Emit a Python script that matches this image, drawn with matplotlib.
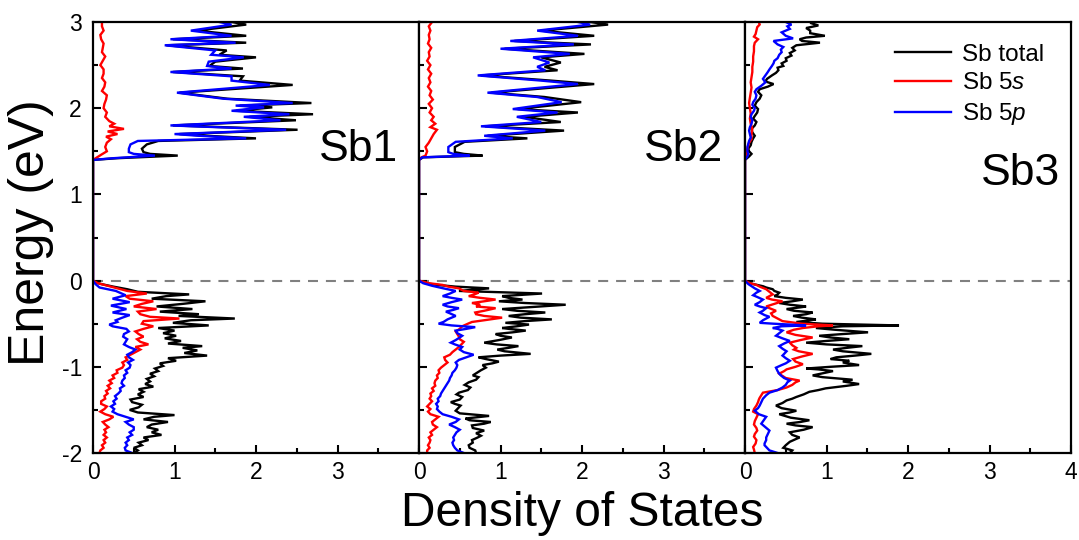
import matplotlib
matplotlib.use('Agg')
import matplotlib.pyplot as plt
import matplotlib.transforms as mtransforms
from matplotlib.ticker import MultipleLocator

plt.rcParams['font.family'] = ['Liberation Sans', 'DejaVu Sans']
plt.rcParams['axes.unicode_minus'] = False
plt.rcParams['mathtext.fontset'] = 'custom'
plt.rcParams['mathtext.rm'] = 'Liberation Sans'
plt.rcParams['mathtext.it'] = 'Liberation Sans:italic'

# ---------------- data ----------------
panel_names = ['Sb1', 'Sb2', 'Sb3']
series_labels = ['Sb total', 'Sb 5$s$', 'Sb 5$p$']
series_colors = ['#000000', '#ff0000', '#0000ff']
x_ticks_per_panel = [[0, 1, 2, 3], [0, 1, 2, 3], [0, 1, 2, 3, 4]]
y_ticks = [-2, -1, 0, 1, 2, 3]

# (energy eV, DOS) pairs
sb1_total = [
    (-2.00, 0.50), (-1.97, 0.55), (-1.94, 0.50), (-1.91, 0.60), (-1.88, 0.56), (-1.85, 0.68),
    (-1.82, 0.62), (-1.79, 0.84), (-1.76, 0.72), (-1.73, 0.80), (-1.70, 0.66), (-1.67, 0.72),
    (-1.64, 0.92), (-1.61, 0.62), (-1.58, 0.75), (-1.56, 1.00), (-1.53, 0.55), (-1.50, 0.45),
    (-1.47, 0.56), (-1.44, 0.60), (-1.41, 0.48), (-1.38, 0.46), (-1.35, 0.62), (-1.32, 0.55),
    (-1.29, 0.62), (-1.26, 0.56), (-1.23, 0.74), (-1.20, 0.64), (-1.17, 0.70), (-1.14, 0.66),
    (-1.11, 0.75), (-1.08, 0.70), (-1.05, 0.80), (-1.02, 0.76), (-0.99, 0.86), (-0.96, 0.82),
    (-0.93, 1.02), (-0.90, 0.92), (-0.87, 1.40), (-0.84, 1.12), (-0.81, 1.28), (-0.78, 1.10),
    (-0.76, 1.34), (-0.73, 0.92), (-0.70, 1.08), (-0.67, 0.88), (-0.64, 1.02), (-0.61, 0.86),
    (-0.58, 1.00), (-0.55, 0.80), (-0.52, 1.42), (-0.49, 0.98), (-0.46, 1.20), (-0.44, 1.74),
    (-0.41, 1.05), (-0.39, 1.30), (-0.36, 0.82), (-0.33, 1.22), (-0.30, 0.78), (-0.27, 1.10),
    (-0.24, 1.38), (-0.21, 0.72), (-0.18, 0.90), (-0.16, 1.18), (-0.13, 0.55), (-0.10, 0.42),
    (-0.07, 0.25), (-0.04, 0.10), (-0.02, 0.03), (0.00, 0.00),
    (1.40, 0.00), (1.42, 0.30), (1.45, 1.04), (1.47, 0.70), (1.49, 0.62), (1.53, 0.60),
    (1.58, 0.66), (1.62, 0.80), (1.65, 2.00), (1.68, 1.40), (1.70, 1.06), (1.75, 2.51),
    (1.80, 0.98), (1.86, 2.49), (1.90, 1.92), (1.93, 2.70), (1.97, 1.76), (2.01, 2.20),
    (2.03, 1.80), (2.06, 2.68), (2.11, 1.65), (2.18, 1.06), (2.27, 2.45), (2.32, 1.80),
    (2.37, 1.84), (2.42, 0.98), (2.46, 1.84), (2.49, 1.43), (2.54, 1.50), (2.59, 2.00),
    (2.62, 1.55), (2.67, 1.64), (2.73, 0.90), (2.76, 1.88), (2.80, 0.98), (2.84, 1.88),
    (2.90, 1.27), (2.97, 1.88), (3.00, 1.70)]

sb1_5s = [
    (-2.00, 0.08), (-1.97, 0.09), (-1.94, 0.13), (-1.91, 0.11), (-1.88, 0.15), (-1.85, 0.13),
    (-1.82, 0.17), (-1.79, 0.13), (-1.76, 0.16), (-1.73, 0.14), (-1.70, 0.19), (-1.67, 0.15),
    (-1.64, 0.12), (-1.61, 0.20), (-1.58, 0.25), (-1.55, 0.15), (-1.52, 0.09), (-1.49, 0.14),
    (-1.46, 0.17), (-1.43, 0.10), (-1.40, 0.10), (-1.37, 0.15), (-1.34, 0.14), (-1.31, 0.18),
    (-1.28, 0.16), (-1.25, 0.21), (-1.22, 0.18), (-1.19, 0.23), (-1.16, 0.20), (-1.13, 0.26),
    (-1.10, 0.24), (-1.07, 0.30), (-1.04, 0.29), (-1.01, 0.36), (-0.98, 0.38), (-0.95, 0.36),
    (-0.92, 0.42), (-0.89, 0.40), (-0.86, 0.46), (-0.83, 0.52), (-0.80, 0.58), (-0.77, 0.52),
    (-0.74, 0.68), (-0.71, 0.58), (-0.68, 0.54), (-0.65, 0.62), (-0.62, 0.56), (-0.59, 0.52),
    (-0.56, 0.62), (-0.53, 0.74), (-0.50, 0.60), (-0.47, 0.62), (-0.44, 1.06), (-0.42, 0.70),
    (-0.39, 0.58), (-0.36, 0.55), (-0.33, 0.78), (-0.30, 0.50), (-0.27, 0.60), (-0.24, 0.74),
    (-0.21, 0.45), (-0.18, 0.40), (-0.15, 0.66), (-0.12, 0.42), (-0.09, 0.30), (-0.06, 0.18),
    (-0.03, 0.06), (0.00, 0.00),
    (1.40, 0.00), (1.43, 0.05), (1.46, 0.10), (1.50, 0.17), (1.55, 0.15), (1.60, 0.17),
    (1.64, 0.22), (1.67, 0.16), (1.70, 0.30), (1.73, 0.18), (1.76, 0.38), (1.79, 0.20),
    (1.82, 0.26), (1.85, 0.20), (1.90, 0.15), (1.95, 0.17), (2.00, 0.13), (2.05, 0.14),
    (2.10, 0.16), (2.15, 0.17), (2.20, 0.11), (2.25, 0.14), (2.30, 0.15), (2.35, 0.11),
    (2.40, 0.13), (2.45, 0.13), (2.50, 0.09), (2.55, 0.12), (2.60, 0.15), (2.65, 0.11),
    (2.70, 0.12), (2.75, 0.13), (2.80, 0.10), (2.85, 0.09), (2.90, 0.13), (2.95, 0.11),
    (3.00, 0.11)]

sb1_5p = [
    (-2.00, 0.48), (-1.97, 0.40), (-1.94, 0.39), (-1.91, 0.42), (-1.88, 0.40), (-1.85, 0.44),
    (-1.82, 0.42), (-1.79, 0.48), (-1.76, 0.45), (-1.73, 0.50), (-1.70, 0.50), (-1.67, 0.44),
    (-1.64, 0.40), (-1.61, 0.50), (-1.58, 0.40), (-1.55, 0.30), (-1.52, 0.24), (-1.49, 0.26),
    (-1.46, 0.22), (-1.43, 0.27), (-1.40, 0.25), (-1.37, 0.29), (-1.34, 0.27), (-1.31, 0.31),
    (-1.28, 0.34), (-1.25, 0.33), (-1.22, 0.38), (-1.19, 0.35), (-1.16, 0.36), (-1.13, 0.39),
    (-1.10, 0.38), (-1.07, 0.42), (-1.04, 0.40), (-1.01, 0.45), (-0.98, 0.46), (-0.95, 0.43),
    (-0.92, 0.49), (-0.89, 0.44), (-0.86, 0.42), (-0.83, 0.48), (-0.80, 0.52), (-0.77, 0.44),
    (-0.74, 0.38), (-0.71, 0.40), (-0.68, 0.42), (-0.65, 0.37), (-0.62, 0.38), (-0.59, 0.44),
    (-0.56, 0.41), (-0.53, 0.24), (-0.51, 0.20), (-0.48, 0.30), (-0.46, 0.28), (-0.43, 0.36),
    (-0.40, 0.45), (-0.37, 0.24), (-0.33, 0.41), (-0.29, 0.22), (-0.25, 0.45), (-0.21, 0.24),
    (-0.17, 0.40), (-0.12, 0.28), (-0.08, 0.08), (-0.04, 0.03), (0.00, 0.00),
    (1.40, 0.00), (1.42, 0.25), (1.45, 0.76), (1.47, 0.50), (1.49, 0.44), (1.53, 0.44),
    (1.58, 0.46), (1.62, 0.55), (1.65, 1.88), (1.68, 1.30), (1.70, 1.00), (1.75, 2.37),
    (1.80, 0.95), (1.86, 2.30), (1.90, 1.85), (1.93, 2.41), (1.97, 1.70), (2.01, 2.10),
    (2.03, 1.75), (2.06, 2.45), (2.11, 1.60), (2.18, 1.03), (2.27, 2.17), (2.32, 1.70),
    (2.37, 1.70), (2.42, 0.95), (2.46, 1.70), (2.49, 1.40), (2.54, 1.42), (2.59, 1.85),
    (2.62, 1.45), (2.67, 1.50), (2.73, 0.88), (2.76, 1.75), (2.80, 0.95), (2.84, 1.70),
    (2.90, 1.20), (2.97, 1.70), (3.00, 1.55)]

sb2_total = [
    (-2.00, 0.70), (-1.97, 0.69), (-1.94, 0.62), (-1.91, 0.61), (-1.88, 0.66), (-1.85, 0.65),
    (-1.82, 0.72), (-1.80, 0.76), (-1.77, 0.70), (-1.74, 0.80), (-1.71, 0.66), (-1.68, 0.65),
    (-1.66, 0.80), (-1.64, 0.88), (-1.62, 0.62), (-1.60, 0.57), (-1.57, 0.86), (-1.54, 0.50),
    (-1.51, 0.45), (-1.48, 0.48), (-1.45, 0.51), (-1.43, 0.44), (-1.41, 0.39), (-1.38, 0.50),
    (-1.35, 0.53), (-1.32, 0.46), (-1.30, 0.49), (-1.27, 0.60), (-1.24, 0.63), (-1.21, 0.56),
    (-1.18, 0.61), (-1.15, 0.70), (-1.12, 0.73), (-1.10, 0.66), (-1.07, 0.71), (-1.04, 0.76),
    (-1.01, 0.82), (-0.98, 0.78), (-0.96, 0.90), (-0.94, 0.98), (-0.91, 0.82), (-0.89, 0.73),
    (-0.87, 1.00), (-0.85, 1.37), (-0.82, 1.05), (-0.80, 0.96), (-0.78, 1.10), (-0.76, 1.22),
    (-0.74, 0.95), (-0.72, 0.80), (-0.69, 0.98), (-0.66, 1.14), (-0.64, 1.00), (-0.62, 0.94),
    (-0.60, 1.15), (-0.58, 1.31), (-0.56, 1.10), (-0.55, 1.02), (-0.53, 1.20), (-0.51, 1.35),
    (-0.49, 1.06), (-0.47, 1.30), (-0.45, 1.63), (-0.43, 1.25), (-0.41, 1.10), (-0.39, 1.30),
    (-0.37, 1.55), (-0.35, 1.20), (-0.33, 1.02), (-0.28, 1.80), (-0.26, 1.30), (-0.24, 0.98),
    (-0.22, 1.27), (-0.20, 1.10), (-0.18, 1.02), (-0.15, 1.51), (-0.12, 0.49), (-0.09, 0.86),
    (-0.07, 0.45), (-0.05, 0.22), (-0.03, 0.08), (0.00, 0.00),
    (1.40, 0.00), (1.43, 0.05), (1.45, 0.78), (1.47, 0.55), (1.49, 0.44), (1.55, 0.44),
    (1.61, 0.56), (1.65, 1.33), (1.68, 0.84), (1.74, 1.78), (1.79, 0.81), (1.84, 1.74),
    (1.90, 1.29), (1.95, 1.95), (1.99, 1.21), (2.07, 1.99), (2.13, 1.54), (2.18, 0.89),
    (2.28, 2.15), (2.32, 1.62), (2.38, 0.76), (2.44, 1.70), (2.48, 1.54), (2.53, 1.74),
    (2.59, 1.50), (2.63, 2.03), (2.69, 1.05), (2.74, 2.11), (2.78, 1.17), (2.84, 2.15),
    (2.90, 1.50), (2.97, 2.32), (3.00, 2.10)]

sb2_5s = [
    (-2.00, 0.10), (-1.97, 0.10), (-1.94, 0.13), (-1.91, 0.11), (-1.88, 0.13), (-1.85, 0.14),
    (-1.82, 0.12), (-1.79, 0.16), (-1.76, 0.14), (-1.73, 0.18), (-1.70, 0.22), (-1.67, 0.17),
    (-1.64, 0.16), (-1.61, 0.20), (-1.58, 0.24), (-1.55, 0.14), (-1.52, 0.11), (-1.49, 0.14),
    (-1.46, 0.10), (-1.43, 0.13), (-1.40, 0.16), (-1.37, 0.13), (-1.34, 0.15), (-1.31, 0.14),
    (-1.28, 0.18), (-1.25, 0.16), (-1.22, 0.20), (-1.19, 0.19), (-1.16, 0.20), (-1.13, 0.23),
    (-1.10, 0.22), (-1.07, 0.25), (-1.04, 0.24), (-1.01, 0.27), (-0.98, 0.31), (-0.95, 0.35),
    (-0.92, 0.32), (-0.89, 0.31), (-0.86, 0.38), (-0.83, 0.41), (-0.80, 0.45), (-0.77, 0.49),
    (-0.74, 0.52), (-0.71, 0.55), (-0.68, 0.50), (-0.65, 0.49), (-0.62, 0.47), (-0.59, 0.45),
    (-0.56, 0.50), (-0.53, 0.53), (-0.50, 0.60), (-0.48, 0.65), (-0.46, 0.80), (-0.43, 1.02),
    (-0.41, 0.80), (-0.39, 0.70), (-0.37, 0.69), (-0.35, 0.80), (-0.32, 0.94), (-0.30, 0.70),
    (-0.28, 0.75), (-0.26, 0.65), (-0.24, 0.80), (-0.22, 0.94), (-0.20, 0.75), (-0.18, 0.61),
    (-0.16, 0.68), (-0.14, 0.73), (-0.12, 0.55), (-0.09, 0.49), (-0.07, 0.36), (-0.05, 0.29),
    (-0.03, 0.12), (0.00, 0.00),
    (1.40, 0.00), (1.43, 0.03), (1.45, 0.08), (1.50, 0.10), (1.55, 0.08), (1.60, 0.12),
    (1.65, 0.15), (1.70, 0.18), (1.75, 0.22), (1.78, 0.14), (1.82, 0.20), (1.86, 0.15),
    (1.90, 0.18), (1.95, 0.13), (2.00, 0.16), (2.05, 0.12), (2.10, 0.17), (2.15, 0.13),
    (2.20, 0.15), (2.25, 0.11), (2.30, 0.14), (2.35, 0.12), (2.40, 0.15), (2.45, 0.11),
    (2.50, 0.14), (2.55, 0.10), (2.60, 0.13), (2.65, 0.12), (2.70, 0.15), (2.75, 0.11),
    (2.80, 0.13), (2.85, 0.12), (2.90, 0.14), (2.95, 0.12), (3.00, 0.16)]

sb2_5p = [
    (-2.00, 0.55), (-1.97, 0.47), (-1.94, 0.44), (-1.91, 0.42), (-1.88, 0.41), (-1.85, 0.43),
    (-1.82, 0.42), (-1.79, 0.44), (-1.76, 0.46), (-1.73, 0.50), (-1.70, 0.44), (-1.67, 0.37),
    (-1.64, 0.45), (-1.61, 0.49), (-1.58, 0.40), (-1.55, 0.29), (-1.52, 0.25), (-1.49, 0.22),
    (-1.46, 0.23), (-1.43, 0.21), (-1.40, 0.24), (-1.37, 0.23), (-1.34, 0.26), (-1.31, 0.27),
    (-1.28, 0.29), (-1.25, 0.31), (-1.22, 0.33), (-1.19, 0.35), (-1.16, 0.37), (-1.13, 0.38),
    (-1.10, 0.40), (-1.07, 0.41), (-1.04, 0.44), (-1.01, 0.46), (-0.98, 0.47), (-0.95, 0.45),
    (-0.92, 0.49), (-0.89, 0.58), (-0.86, 0.67), (-0.83, 0.55), (-0.80, 0.50), (-0.77, 0.53),
    (-0.74, 0.44), (-0.72, 0.39), (-0.69, 0.45), (-0.66, 0.50), (-0.64, 0.53), (-0.61, 0.47),
    (-0.58, 0.45), (-0.56, 0.58), (-0.54, 0.69), (-0.52, 0.40), (-0.50, 0.24), (-0.48, 0.30),
    (-0.45, 0.35), (-0.43, 0.40), (-0.41, 0.45), (-0.38, 0.38), (-0.36, 0.33), (-0.34, 0.42),
    (-0.32, 0.49), (-0.30, 0.35), (-0.28, 0.29), (-0.25, 0.40), (-0.22, 0.53), (-0.20, 0.40),
    (-0.18, 0.29), (-0.15, 0.38), (-0.12, 0.45), (-0.09, 0.30), (-0.06, 0.16), (-0.03, 0.05),
    (0.00, 0.00),
    (1.40, 0.00), (1.43, 0.04), (1.45, 0.62), (1.47, 0.42), (1.49, 0.36), (1.55, 0.36),
    (1.61, 0.45), (1.65, 1.15), (1.68, 0.80), (1.74, 1.55), (1.79, 0.76), (1.84, 1.50),
    (1.90, 1.20), (1.95, 1.70), (1.99, 1.15), (2.07, 1.75), (2.13, 1.45), (2.18, 0.84),
    (2.28, 1.95), (2.32, 1.50), (2.38, 0.72), (2.44, 1.55), (2.48, 1.45), (2.53, 1.60),
    (2.59, 1.40), (2.63, 1.85), (2.69, 1.00), (2.74, 1.90), (2.78, 1.12), (2.84, 1.95),
    (2.90, 1.45), (2.97, 2.10), (3.00, 1.95)]

sb3_total = [
    (-2.00, 0.55), (-1.97, 0.58), (-1.94, 0.47), (-1.91, 0.50), (-1.87, 0.55), (-1.84, 0.62),
    (-1.82, 0.67), (-1.79, 0.58), (-1.76, 0.55), (-1.73, 0.72), (-1.70, 0.83), (-1.68, 0.62),
    (-1.66, 0.51), (-1.64, 0.68), (-1.62, 0.79), (-1.59, 0.56), (-1.55, 0.42), (-1.53, 0.55),
    (-1.51, 0.63), (-1.48, 0.45), (-1.45, 0.38), (-1.42, 0.46), (-1.39, 0.51), (-1.37, 0.58),
    (-1.35, 0.63), (-1.32, 0.72), (-1.29, 0.79), (-1.27, 0.90), (-1.25, 0.99), (-1.22, 1.25),
    (-1.20, 1.40), (-1.17, 1.20), (-1.15, 1.32), (-1.12, 0.95), (-1.10, 0.83), (-1.07, 0.98),
    (-1.05, 1.08), (-1.03, 0.90), (-1.02, 0.75), (-1.00, 1.05), (-0.98, 1.40), (-0.95, 1.20),
    (-0.93, 1.28), (-0.91, 1.05), (-0.89, 1.12), (-0.87, 1.35), (-0.85, 1.55), (-0.82, 1.20),
    (-0.80, 1.08), (-0.78, 1.25), (-0.76, 1.44), (-0.74, 1.00), (-0.72, 0.75), (-0.70, 1.00),
    (-0.68, 1.28), (-0.66, 1.05), (-0.64, 0.91), (-0.62, 1.20), (-0.60, 1.51), (-0.57, 1.10),
    (-0.55, 0.87), (-0.53, 1.20), (-0.52, 1.89), (-0.50, 0.95), (-0.48, 0.63), (-0.46, 0.80),
    (-0.45, 0.87), (-0.43, 0.70), (-0.41, 0.59), (-0.39, 0.75), (-0.37, 0.83), (-0.35, 0.60),
    (-0.33, 0.51), (-0.31, 0.68), (-0.30, 0.75), (-0.28, 0.55), (-0.26, 0.42), (-0.24, 0.58),
    (-0.22, 0.71), (-0.20, 0.50), (-0.18, 0.36), (-0.16, 0.40), (-0.14, 0.42), (-0.12, 0.36),
    (-0.10, 0.34), (-0.08, 0.26), (-0.065, 0.22), (-0.04, 0.10), (-0.02, 0.03), (0.00, 0.00),
    (1.40, 0.00), (1.44, 0.05), (1.47, 0.08), (1.50, 0.05), (1.53, 0.04), (1.57, 0.07),
    (1.61, 0.08), (1.65, 0.10), (1.68, 0.12), (1.72, 0.09), (1.76, 0.08), (1.80, 0.12),
    (1.84, 0.14), (1.88, 0.10), (1.91, 0.12), (1.95, 0.15), (1.99, 0.16), (2.03, 0.12),
    (2.07, 0.14), (2.11, 0.18), (2.15, 0.20), (2.19, 0.16), (2.22, 0.18), (2.25, 0.28),
    (2.28, 0.35), (2.31, 0.25), (2.34, 0.27), (2.38, 0.33), (2.41, 0.38), (2.44, 0.41),
    (2.47, 0.40), (2.49, 0.47), (2.52, 0.45), (2.55, 0.51), (2.58, 0.50), (2.61, 0.57),
    (2.64, 0.55), (2.67, 0.61), (2.70, 0.58), (2.73, 0.63), (2.76, 0.92), (2.78, 0.70),
    (2.80, 0.67), (2.82, 0.75), (2.84, 0.98), (2.87, 0.80), (2.90, 0.80), (2.93, 0.75),
    (2.96, 0.90), (2.99, 0.80), (3.00, 0.82)]

sb3_5s = [
    (-2.00, 0.12), (-1.96, 0.11), (-1.93, 0.10), (-1.89, 0.13), (-1.85, 0.14), (-1.81, 0.11),
    (-1.78, 0.12), (-1.74, 0.15), (-1.71, 0.14), (-1.67, 0.11), (-1.63, 0.12), (-1.59, 0.14),
    (-1.55, 0.16), (-1.52, 0.10), (-1.49, 0.11), (-1.45, 0.14), (-1.41, 0.16), (-1.38, 0.17),
    (-1.36, 0.18), (-1.33, 0.20), (-1.30, 0.22), (-1.27, 0.40), (-1.24, 0.51), (-1.21, 0.58),
    (-1.18, 0.62), (-1.16, 0.67), (-1.13, 0.50), (-1.10, 0.45), (-1.08, 0.42), (-1.05, 0.48),
    (-1.03, 0.51), (-1.00, 0.62), (-0.97, 0.71), (-0.94, 0.62), (-0.91, 0.59), (-0.88, 0.70),
    (-0.85, 0.83), (-0.82, 0.66), (-0.80, 0.60), (-0.78, 0.63), (-0.75, 0.58), (-0.72, 0.55),
    (-0.69, 0.68), (-0.66, 0.83), (-0.63, 0.62), (-0.60, 0.51), (-0.57, 0.60), (-0.55, 0.71),
    (-0.53, 0.90), (-0.52, 1.08), (-0.50, 0.70), (-0.47, 0.46), (-0.44, 0.40), (-0.41, 0.34),
    (-0.38, 0.32), (-0.35, 0.38), (-0.32, 0.30), (-0.30, 0.26), (-0.27, 0.36), (-0.24, 0.46),
    (-0.22, 0.33), (-0.20, 0.26), (-0.18, 0.30), (-0.16, 0.34), (-0.13, 0.30), (-0.10, 0.26),
    (-0.07, 0.18), (-0.05, 0.14), (-0.03, 0.06), (0.00, 0.00),
    (1.40, 0.00), (1.50, 0.02), (1.60, 0.05), (1.64, 0.08), (1.70, 0.08), (1.76, 0.09),
    (1.82, 0.07), (1.88, 0.06), (1.94, 0.07), (2.00, 0.06), (2.06, 0.05), (2.12, 0.06),
    (2.18, 0.07), (2.24, 0.08), (2.30, 0.07), (2.36, 0.08), (2.42, 0.09), (2.48, 0.09),
    (2.54, 0.10), (2.60, 0.10), (2.66, 0.11), (2.72, 0.11), (2.76, 0.12), (2.80, 0.16),
    (2.83, 0.11), (2.86, 0.13), (2.90, 0.14), (2.94, 0.15), (2.97, 0.18), (3.00, 0.17)]

sb3_5p = [
    (-2.00, 0.40), (-1.97, 0.30), (-1.94, 0.27), (-1.91, 0.24), (-1.89, 0.24), (-1.85, 0.26),
    (-1.82, 0.26), (-1.78, 0.28), (-1.74, 0.30), (-1.70, 0.25), (-1.66, 0.20), (-1.62, 0.23),
    (-1.58, 0.26), (-1.55, 0.17), (-1.51, 0.12), (-1.48, 0.16), (-1.45, 0.18), (-1.41, 0.20),
    (-1.37, 0.22), (-1.33, 0.26), (-1.30, 0.30), (-1.27, 0.40), (-1.24, 0.46), (-1.21, 0.50),
    (-1.18, 0.52), (-1.16, 0.55), (-1.13, 0.48), (-1.10, 0.44), (-1.08, 0.42), (-1.05, 0.40),
    (-1.01, 0.38), (-0.98, 0.45), (-0.96, 0.50), (-0.93, 0.55), (-0.90, 0.50), (-0.87, 0.46),
    (-0.85, 0.48), (-0.82, 0.51), (-0.79, 0.46), (-0.76, 0.42), (-0.73, 0.48), (-0.70, 0.55),
    (-0.67, 0.46), (-0.64, 0.38), (-0.61, 0.42), (-0.58, 0.46), (-0.56, 0.40), (-0.55, 0.34),
    (-0.53, 0.45), (-0.52, 0.75), (-0.50, 0.35), (-0.49, 0.18), (-0.46, 0.22), (-0.44, 0.26),
    (-0.42, 0.30), (-0.40, 0.24), (-0.37, 0.18), (-0.35, 0.22), (-0.32, 0.26), (-0.30, 0.18),
    (-0.28, 0.12), (-0.25, 0.18), (-0.22, 0.22), (-0.19, 0.15), (-0.17, 0.10), (-0.14, 0.14),
    (-0.12, 0.18), (-0.09, 0.12), (-0.065, 0.08), (-0.04, 0.04), (0.00, 0.00),
    (1.40, 0.00), (1.44, 0.03), (1.47, 0.04), (1.50, 0.03), (1.55, 0.03), (1.62, 0.05),
    (1.66, 0.07), (1.70, 0.06), (1.74, 0.05), (1.78, 0.06), (1.82, 0.08), (1.86, 0.09),
    (1.90, 0.07), (1.93, 0.08), (1.97, 0.11), (2.00, 0.12), (2.04, 0.09), (2.07, 0.10),
    (2.11, 0.13), (2.15, 0.14), (2.19, 0.12), (2.22, 0.14), (2.26, 0.20), (2.30, 0.25),
    (2.34, 0.22), (2.38, 0.25), (2.42, 0.28), (2.45, 0.30), (2.49, 0.33), (2.52, 0.35),
    (2.55, 0.36), (2.58, 0.40), (2.62, 0.42), (2.65, 0.45), (2.68, 0.44), (2.71, 0.47),
    (2.74, 0.40), (2.78, 0.35), (2.81, 0.59), (2.84, 0.50), (2.88, 0.45), (2.92, 0.55),
    (2.95, 0.52), (2.97, 0.57), (3.00, 0.50)]

panel_series = [
    [sb1_total, sb1_5s, sb1_5p],
    [sb2_total, sb2_5s, sb2_5p],
    [sb3_total, sb3_5s, sb3_5p],
]

# ---------------- figure ----------------
W, H = 1079, 540
fig = plt.figure(figsize=(W / 100, H / 100), dpi=100)
lefts_px = [93, 419, 745]
panel_w_px = 326
top_px, bottom_px = 22, 453
label_pos = [(0.936, 1.39), (0.933, 1.39), (0.966, 1.11)]

axes = []
for i in range(3):
    ax = fig.add_axes([lefts_px[i] / W, 1 - bottom_px / H,
                       panel_w_px / W, (bottom_px - top_px) / H])
    axes.append(ax)
    for series, color, lab in zip(panel_series[i], series_colors, series_labels):
        e = [p[0] for p in series]
        d = [p[1] for p in series]
        ax.plot(d, e, color=color, lw=1.7, label=lab, solid_joinstyle='miter')
    ax.axhline(0, color='#808080', lw=1.5, dashes=(4.8, 3.8), zorder=0)
    ax.set_xlim(0, 4)
    ax.set_ylim(-2, 3)
    ax.set_xticks(x_ticks_per_panel[i])
    ax.xaxis.set_minor_locator(MultipleLocator(0.5))
    ax.set_yticks(y_ticks)
    ax.yaxis.set_minor_locator(MultipleLocator(0.5))
    ax.tick_params(which='both', direction='in', width=1.5, labelsize=16.5,
                   top=False, right=False)
    ax.tick_params(which='major', length=6)
    ax.tick_params(which='minor', length=3.5)
    ax.tick_params(axis='x', pad=6)
    ax.tick_params(axis='y', pad=8)
    if i > 0:
        ax.set_yticklabels([])
    for sp in ax.spines.values():
        sp.set_linewidth(1.6)
    trans = mtransforms.blended_transform_factory(ax.transAxes, ax.transData)
    ax.text(label_pos[i][0], label_pos[i][1], panel_names[i], transform=trans,
            ha='right', va='baseline', fontsize=32)

axes[2].legend(loc='upper left', bbox_to_anchor=((895 - 745) / panel_w_px, 0.95),
               frameon=False, fontsize=17.5, handlelength=2.3, handletextpad=0.45,
               labelspacing=0.28, borderpad=0, borderaxespad=0)

fig.text(0.5 * (93 + 1071) / W, 1 - 513 / H, 'Density of States', ha='center',
         va='center', fontsize=34.5)
fig.text(31 / W, 1 - 233 / H, 'Energy (eV)', ha='center', va='center',
         rotation=90, fontsize=36)

fig.savefig('out.png', dpi=100)
